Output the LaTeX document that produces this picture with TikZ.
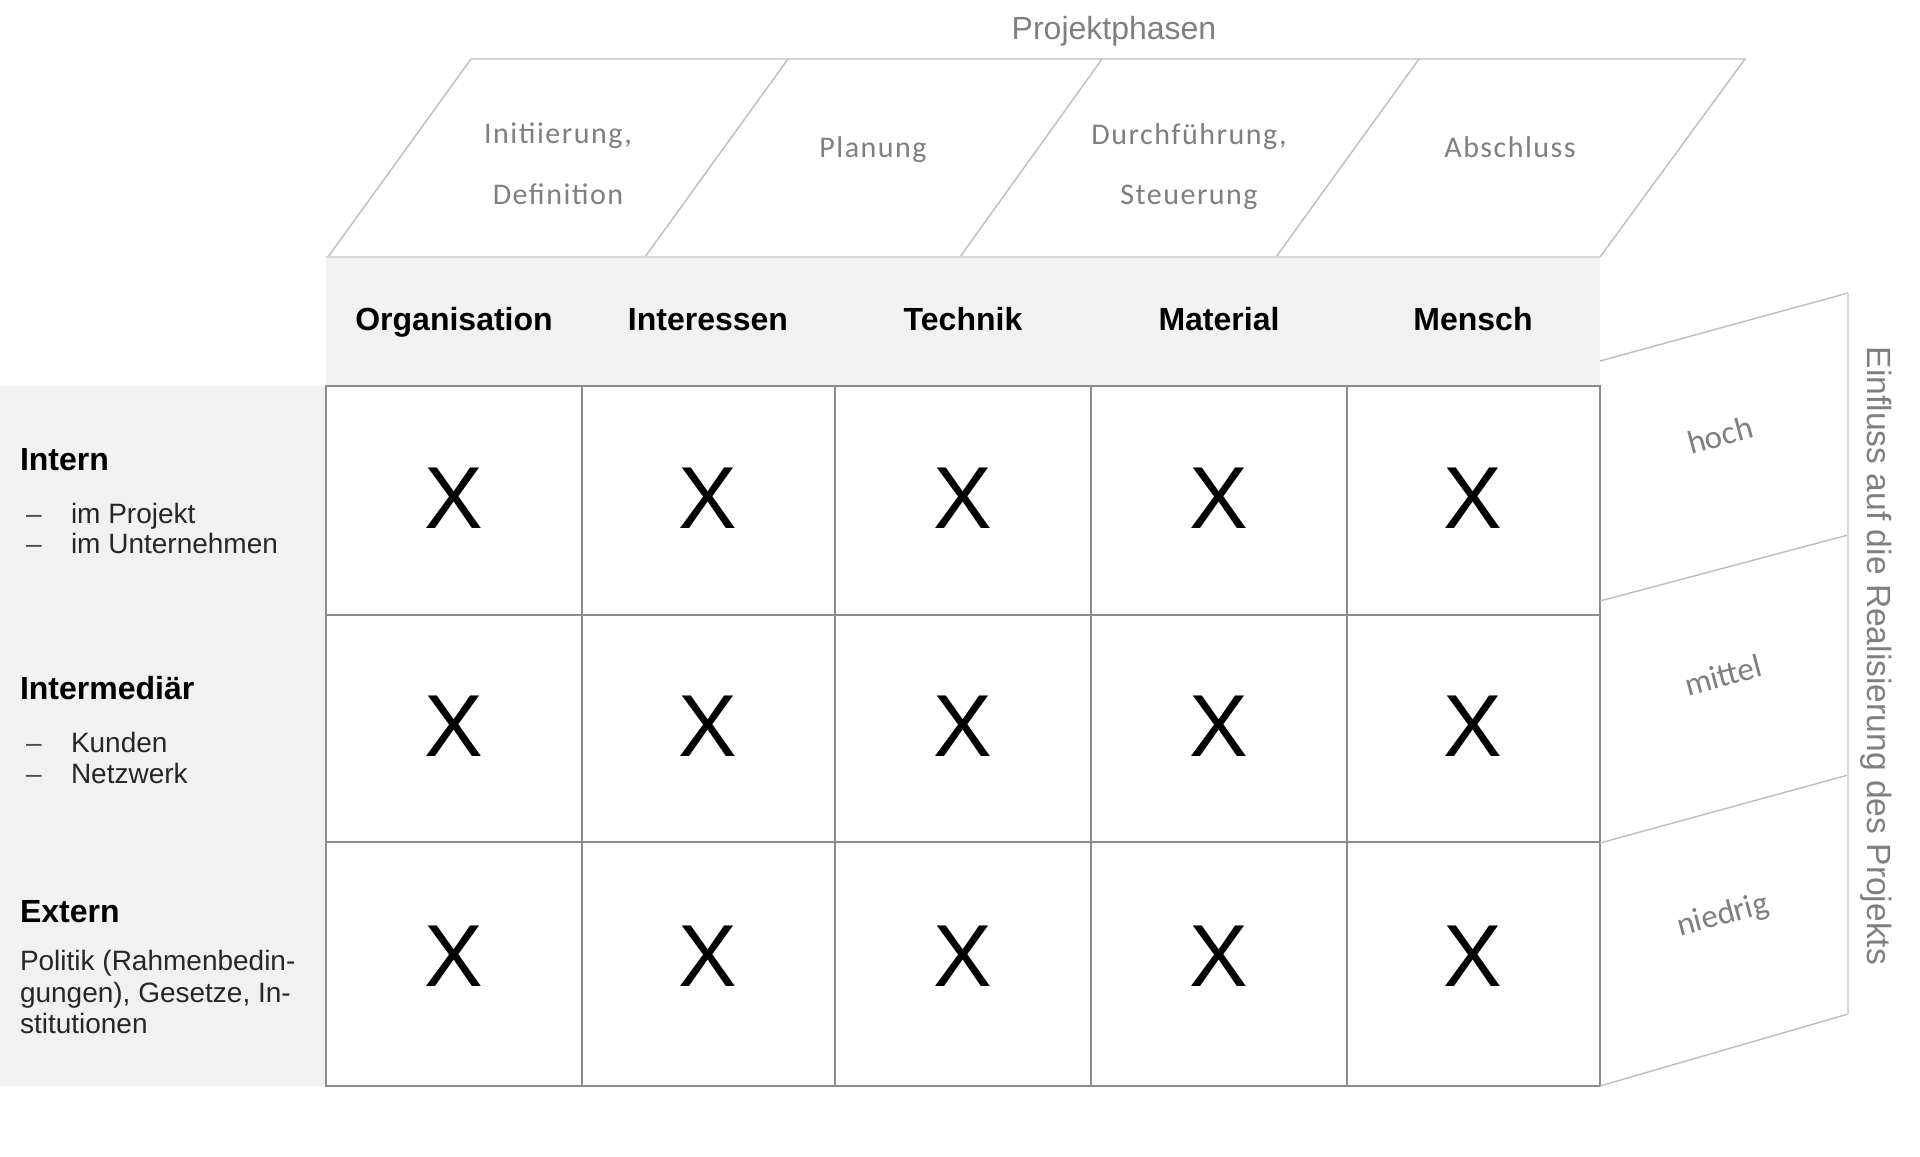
\documentclass[tikz,border=0pt]{standalone}
\usepackage{fontspec}
\setmainfont{Liberation Sans}
\newfontfamily\calfont{Carlito}[LetterSpace=5]
\newfontfamily\calplain{Carlito}
\definecolor{bandgray}{HTML}{F1F1F1}
\definecolor{gridgray}{HTML}{8C8C8C}
\definecolor{linegray}{HTML}{BDBDBD}
\definecolor{edgegray}{HTML}{D6D6D6}
\definecolor{textgray}{HTML}{7F7F7F}
\begin{document}
\begin{tikzpicture}[x=0.5pt,y=-0.5pt,
  every node/.style={inner sep=0pt, outer sep=0pt},
  thinline/.style={draw=linegray, line width=0.7pt},
  gridline/.style={draw=gridgray, line width=1.2pt},
  xmark/.style={font=\fontsize{44}{44}\selectfont, anchor=center},
  colhead/.style={font=\fontsize{16}{19}\selectfont\bfseries, anchor=base},
  phase/.style={font=\calfont\fontsize{15}{18}\selectfont, text=textgray, anchor=base},
  rowhead/.style={font=\fontsize{16}{19}\selectfont\bfseries, anchor=base west},
  rowitem/.style={font=\fontsize{14}{16}\selectfont, text=black!85, anchor=base west},
  dashmark/.style={font=\fontsize{14}{16}\selectfont, text=black!70, anchor=base},
  level/.style={font=\calplain\fontsize{16.5}{19}\selectfont, text=textgray, rotate=15, anchor=center},
  axislabel/.style={font=\fontsize{16}{19}\selectfont, text=textgray}]
\useasboundingbox (0,0) rectangle (1920,1156);
\fill[white] (0,0) rectangle (1920,1156);

% title
\node[axislabel, anchor=base] (title) at (1114,40) {Projektphasen};

% phase band (top face)
\draw[thinline] (328,257) -- (471,59) -- (1745,59) -- (1600,257);
\draw[thinline] (645,257) -- (788,59);
\draw[thinline] (960,257) -- (1102,59);
\draw[thinline] (1276,257) -- (1419,59);
\node[phase] (p1a) at (558,143) {Initiierung,};
\node[phase] (p1b) at (558,204) {Definition};
\node[phase] (p2) at (873,157) {Planung};
\node[phase] (p3a) at (1189,144) {Durchführung,};
\node[phase] (p3b) at (1189,204) {Steuerung};
\node[phase] (p4) at (1510,157) {Abschluss};

% header band
\fill[bandgray] (326,257) rectangle (1600,386);
\draw[draw=edgegray, line width=0.8pt] (326,257) -- (1600,257);
\node[colhead] (h1) at (454,330) {Organisation};
\node[colhead] (h2) at (708,330) {Interessen};
\node[colhead] (h3) at (963,330) {Technik};
\node[colhead] (h4) at (1219,330) {Material};
\node[colhead] (h5) at (1473,330) {Mensch};

% left panel
\fill[bandgray] (0,386) rectangle (326,1086);
\node[rowhead] (r1) at (20,470) {Intern};
\node[dashmark] (d1) at (34,523) {–};
\node[rowitem] (r1a) at (71,523) {im Projekt};
\node[dashmark] (d2) at (34,553) {–};
\node[rowitem] (r1b) at (71,553) {im Unternehmen};
\node[rowhead] (r2) at (20,699) {Intermediär};
\node[dashmark] (d3) at (34,752) {–};
\node[rowitem] (r2a) at (71,752) {Kunden};
\node[dashmark] (d4) at (34,783) {–};
\node[rowitem] (r2b) at (71,783) {Netzwerk};
\node[rowhead] (r3) at (20,922) {Extern};
\node[rowitem] (r3a) at (20,970) {Politik (Rahmenbedin-};
\node[rowitem] (r3b) at (20,1002) {gungen), Gesetze, In-};
\node[rowitem] (r3c) at (20,1033) {stitutionen};

% grid
\fill[white] (326,386) rectangle (1600,1086);
\foreach \xa in {582,835,1091,1347}
  \draw[gridline] (\xa,386) -- (\xa,1086);
\foreach \ya in {615,842}
  \draw[gridline] (326,\ya) -- (1600,\ya);
\draw[gridline] (326,386) rectangle (1600,1086);
\foreach \cx [count=\c] in {454,708,963,1219,1473}
  \foreach \cy [count=\r] in {498,726,956}
    \node[xmark] (x\r\c) at (\cx,\cy) {X};

% right face (influence)
\draw[thinline] (1600,361) -- (1848,293);
\draw[thinline] (1600,601) -- (1848,535);
\draw[thinline] (1600,843) -- (1848,775);
\draw[thinline] (1600,1086) -- (1848,1014);
\draw[draw=edgegray, line width=1.4pt] (1848,293) -- (1848,1014);
\node[level] (l1) at (1720,435) {hoch};
\node[level] (l2) at (1723,675) {mittel};
\node[level] (l3) at (1723,916) {niedrig};
\node[axislabel, font=\fontsize{16.8}{19}\selectfont, rotate=-90, anchor=center] (infl) at (1876,656) {Einfluss auf die Realisierung des Projekts};
\end{tikzpicture}
\end{document}
